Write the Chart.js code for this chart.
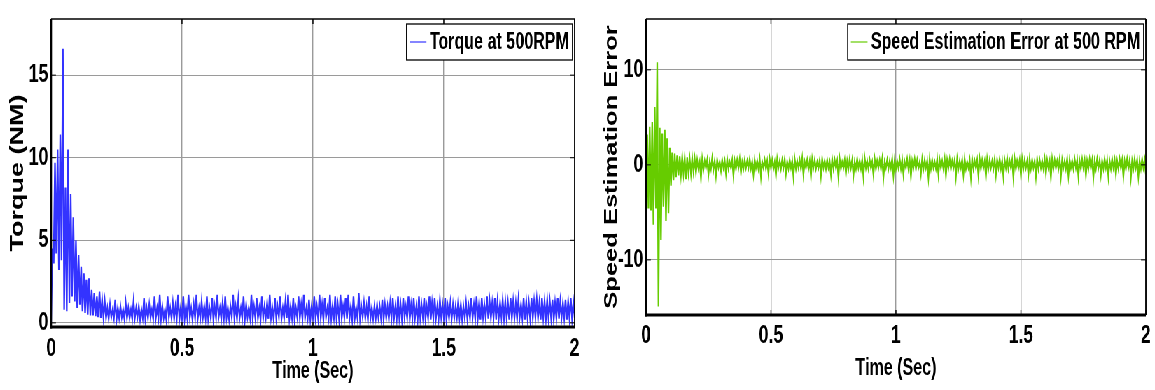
<!DOCTYPE html>
<html>
<head>
<meta charset="utf-8">
<script src="https://cdn.jsdelivr.net/npm/chart.js@4.4.1/dist/chart.umd.min.js"></script>
<style>
html, body { margin: 0; padding: 0; background: #fff; overflow: hidden; }
/* the original figure is squeezed sideways, so draw wide and compress */
#stage { position: relative; width: 1650px; height: 390px; transform: scaleX(0.7); transform-origin: 0 0; }
.panel { position: absolute; top: 0; height: 390px; }
#left { left: 0; width: 835px; }
#right { left: 840px; width: 810px; }
</style>
</head>
<body>
<div id="stage">
    <div class="panel" id="left"><canvas id="torqueChart"></canvas></div>
    <div class="panel" id="right"><canvas id="errorChart"></canvas></div>
</div>
<script>
const SAMPLE_STEP = 0.005; // seconds between samples

// torque (NM), one value per sample
const torque = [
    0.0, 4.5, 3.6, 9.7, 4.2, 10.5, 3.2, 11.4, 3.8, 16.6,
    0.8, 8.2, 0.7, 10.5, 1.2, 7.8, 1.6, 6.4, 1.3, 5.0,
    0.9, 4.1, 1.1, 3.4, 0.7, 3.0, 0.6, 2.6, 0.5, 2.7,
    0.45, 2.0, 0.45, 1.8, 0.4, 1.6, 0.35, 1.9, 0.3, 1.4,
    0.35,
    1.3, 0.3, 0.9, 0.25, 1.1, 0.35, 0.8, 0.3, 1.4, 0.2, 0.9, 0.3, 1.0, 0.35, 0.8, 0.25, 1.2, 0.3, 0.9, 0.3,
    0.8, 0.25, 1.3, 0.3, 0.9, 0.35, 1.0, 0.2, 0.8, 0.3, 1.5, 0.25, 0.9, 0.3, 1.1, 0.35, 0.8, 0.25, 1.6, 0.3,
    0.9, 0.3, 1.7, 0.25, 1.0, 0.3, 0.8, 0.2, 1.6, 0.35, 0.9, 0.3, 1.2, 0.25, 1.0, 0.3, 1.7, 0.2, 0.9, 0.3,
    1.6, 0.25, 1.0, 0.3, 1.7, 0.35, 0.9, 0.2, 1.1, 0.3, 1.7, 0.25, 0.9, 0.3, 1.3, 0.35, 1.0, 0.3, 1.6, 0.25,
    0.9, 0.3, 1.5, 0.2, 1.0, 0.3, 1.7, 0.35, 0.9, 0.25, 1.2, 0.3, 1.6, 0.3, 0.9, 0.2, 1.0, 0.35, 1.7, 0.3,
    1.0, 0.25, 1.4, 0.3, 0.9, 0.3, 1.6, 0.2, 1.1, 0.35, 0.9, 0.3, 1.7, 0.25, 1.0, 0.3, 1.5, 0.3, 0.9, 0.2,
    1.6, 0.3, 1.0, 0.35, 1.2, 0.25, 1.7, 0.3, 0.9, 0.2, 1.5, 0.3, 1.0, 0.35, 1.6, 0.25, 0.9, 0.3, 1.3, 0.3,
    1.7, 0.25, 1.0, 0.3, 1.5, 0.2, 0.9, 0.35, 1.6, 0.3, 1.1, 0.25, 1.7, 0.3, 0.9, 0.3, 1.4, 0.2, 1.0, 0.35,
    1.6, 0.3, 1.0, 0.25, 1.7, 0.3, 1.1, 0.2, 1.5, 0.35, 0.9, 0.3, 1.7, 0.25, 1.0, 0.3, 1.6, 0.3, 1.1, 0.2,
    1.7, 0.3, 1.0, 0.35, 1.5, 0.25, 1.7, 0.3, 1.0, 0.2, 1.6, 0.3, 0.9, 0.3, 1.8, 0.25, 1.0, 0.35, 1.2, 0.3,
    1.0, 0.2, 1.6, 0.3, 0.9, 0.25, 1.0, 0.3, 1.1, 0.35, 1.0, 0.3, 1.4, 0.2, 1.1, 0.3, 1.0, 0.25, 1.2, 0.3,
    1.5, 0.3, 1.0, 0.25, 1.6, 0.3, 1.1, 0.2, 1.5, 0.35, 1.0, 0.3, 1.6, 0.25, 1.1, 0.3, 1.5, 0.3, 1.0, 0.2,
    1.6, 0.3, 1.1, 0.35, 1.5, 0.25, 1.0, 0.3, 1.6, 0.2, 1.2, 0.3, 1.5, 0.3, 1.0, 0.25, 1.4, 0.35, 1.1, 0.3,
    1.5, 0.2, 1.0, 0.3, 1.2, 0.25, 1.1, 0.3, 1.0, 0.35, 1.3, 0.3, 1.1, 0.2, 1.0, 0.3, 1.2, 0.25, 1.0, 0.3,
    1.5, 0.3, 1.1, 0.25, 1.6, 0.3, 1.2, 0.2, 1.5, 0.35, 1.1, 0.3, 1.6, 0.25, 1.3, 0.3, 1.2, 0.3, 1.5, 0.2,
    1.3, 0.3, 1.2, 0.35, 1.4, 0.25, 1.3, 0.3, 1.2, 0.2, 1.5, 0.3, 1.3, 0.3, 1.2, 0.25, 1.4, 0.35, 1.1, 0.3,
    1.5, 0.2, 1.3, 0.3, 1.2, 0.25, 1.5, 0.3, 1.3, 0.35, 1.4, 0.3, 1.2, 0.2, 1.5, 0.3, 1.3, 0.25, 1.4, 0.3,
    1.3, 0.3, 1.4, 0.2, 1.2, 0.3, 1.5, 0.25, 1.3, 0.35, 1.2, 0.3, 1.4, 0.2, 1.3, 0.3, 1.5, 0.25, 1.2, 0.3
];

// speed estimation error, one value per sample
const speedError = [
    0, 3.2, -4.6, 4.0, -4.8, 4.5, -6.3, 6.1, -4.6, 10.8,
    -14.9, 3.9, -7.9, 3.3, -4.4, 3.7, -5.9, 2.8, -5.1, 1.8,
    -2.2, 1.3, -1.6, 1.2, -1.3, 1.0, -1.1, 0.9, -1.0, 0.8,
    -0.9, 0.7, -1.5, 0.8, -0.8, 0.6, -0.9, 0.7, -0.7, 0.6,
    -0.8,
    0.5, -0.4, 0.3, -1.4, 0.6, -0.5, 0.4, -0.3, 0.5, -1.0, 0.3, -0.4, 0.7, -0.5, 0.4, -1.1, 0.5, -0.3, 0.3, -0.6,
    0.5, -0.3, 0.4, -0.9, 0.6, -0.4, 0.3, -0.3, 0.5, -1.1, 0.4, -0.4, 0.5, -0.3, 0.6, -0.8, 0.3, -0.4, 0.5, -0.3,
    0.4, -0.3, 0.6, -0.4, 0.3, -1.0, 0.5, -0.3, 0.4, -0.4, 0.6, -1.2, 0.3, -0.3, 0.5, -0.4, 0.4, -0.9, 0.6, -0.3,
    0.5, -0.4, 0.3, -1.1, 0.6, -0.3, 0.4, -0.4, 0.5, -0.3, 0.6, -0.9, 0.3, -0.4, 0.5, -0.3, 0.4, -1.2, 0.6, -0.4,
    0.4, -0.3, 0.5, -0.4, 0.7, -1.0, 0.3, -0.3, 0.5, -0.4, 0.4, -1.2, 0.6, -0.3, 0.5, -0.4, 0.3, -0.3, 0.5, -1.1,
    0.6, -0.3, 0.4, -0.4, 0.5, -0.3, 0.3, -1.0, 0.6, -0.4, 0.5, -0.3, 0.4, -1.3, 0.6, -0.4, 0.3, -0.3, 0.5, -0.9,
    0.4, -0.4, 0.6, -0.3, 0.5, -1.1, 0.3, -0.4, 0.6, -0.3, 0.4, -0.4, 0.5, -1.2, 0.7, -0.3, 0.4, -0.4, 0.5, -0.3,
    0.3, -1.0, 0.6, -0.4, 0.4, -0.3, 0.5, -0.4, 0.6, -1.3, 0.3, -0.3, 0.5, -0.4, 0.4, -0.3, 0.6, -1.1, 0.5, -0.4,
    0.4, -0.3, 0.6, -0.4, 0.5, -1.0, 0.3, -0.3, 0.6, -0.4, 0.5, -1.2, 0.4, -0.3, 0.6, -0.4, 0.5, -0.3, 0.3, -0.9,
    0.6, -0.4, 0.5, -0.3, 0.4, -1.3, 0.6, -0.4, 0.5, -0.3, 0.3, -0.4, 0.6, -1.0, 0.5, -0.3, 0.4, -0.4, 0.6, -1.1,
    0.5, -0.3, 0.6, -0.4, 0.4, -0.3, 0.5, -1.2, 0.6, -0.4, 0.4, -0.3, 0.5, -1.0, 0.6, -0.4, 0.3, -0.3, 0.5, -1.3,
    0.6, -0.4, 0.4, -0.3, 0.5, -1.1, 0.6, -0.4, 0.5, -0.3, 0.4, -1.2, 0.6, -0.4, 0.5, -0.3, 0.4, -0.4, 0.6, -1.0,
    0.5, -0.3, 0.6, -0.4, 0.4, -1.2, 0.5, -0.3, 0.7, -0.4, 0.4, -0.3, 0.5, -1.3, 0.6, -0.4, 0.4, -0.3, 0.5, -1.1,
    0.6, -0.4, 0.5, -0.3, 0.4, -1.0, 0.6, -0.4, 0.5, -0.3, 0.4, -1.2, 0.6, -0.4, 0.5, -0.3, 0.4, -0.4, 0.6, -0.9,
    0.5, -0.3, 0.4, -1.3, 0.6, -0.4, 0.5, -0.3, 0.4, -0.4, 0.6, -1.2, 0.5, -0.3, 0.4, -0.4, 0.6, -1.1, 0.5, -0.3,
    0.4, -0.4, 0.6, -0.3, 0.5, -1.2, 0.4, -0.4, 0.6, -0.3, 0.5, -1.1, 0.4, -0.4, 0.6, -0.3, 0.5, -1.3, 0.4, -0.4,
    0.6, -0.3, 0.5, -1.0, 0.4, -0.4, 0.6, -0.3, 0.5, -1.2, 0.4, -0.4, 0.6, -0.3, 0.5, -1.0, 0.4, -0.4, 0.6, -0.3,
    0.5, -1.2, 0.4, -0.4, 0.6, -0.3, 0.5, -1.3, 0.4, -0.4, 0.6, -0.3, 0.5, -1.2, 0.4, -0.4, 0.6, -0.3, 0.5, -1.0
];

const xTicks = [0, 0.5, 1, 1.5, 2];
const xTickLabels = ['0', '0.5', '1', '1.5', '2'];
const torqueTicks = [0, 5, 10, 15];
const errorTicks = [-10, 0, 10];

const FONT = '"Liberation Sans", Arial, sans-serif';

function points(values) {
    return values.map((v, i) => ({ x: i * SAMPLE_STEP, y: v }));
}

// matlab style box: axes, inner tick marks and a boxed legend
const matlabBox = {
    id: 'matlabBox',
    afterDatasetsDraw(chart) {
        const { ctx, chartArea: a, scales: { x, y } } = chart;
        ctx.save();
        ctx.strokeStyle = '#000';
        ctx.lineWidth = 1.4;
        ctx.beginPath();
        x.ticks.forEach(t => {
            const px = x.getPixelForValue(t.value);
            ctx.moveTo(px, a.bottom); ctx.lineTo(px, a.bottom - 5);
            ctx.moveTo(px, a.top); ctx.lineTo(px, a.top + 5);
        });
        ctx.stroke();
        ctx.lineWidth = 1;
        ctx.beginPath();
        y.ticks.forEach(t => {
            const py = y.getPixelForValue(t.value);
            ctx.moveTo(a.left, py); ctx.lineTo(a.left + 7, py);
            ctx.moveTo(a.right, py); ctx.lineTo(a.right - 7, py);
        });
        ctx.stroke();

        ctx.lineWidth = 1.5;
        ctx.beginPath(); ctx.moveTo(a.left, a.top); ctx.lineTo(a.right, a.top); ctx.stroke();
        ctx.lineWidth = 1.8;
        ctx.beginPath(); ctx.moveTo(a.right, a.top); ctx.lineTo(a.right, a.bottom); ctx.stroke();
        ctx.lineWidth = 2.8;
        ctx.beginPath(); ctx.moveTo(a.left, a.top); ctx.lineTo(a.left, a.bottom + 1.5); ctx.stroke();
        ctx.lineWidth = 3;
        ctx.beginPath(); ctx.moveTo(a.left - 1.4, a.bottom); ctx.lineTo(a.right, a.bottom); ctx.stroke();
        ctx.restore();
    },
    afterDraw(chart) {
        const { ctx, chartArea: a } = chart;
        const ds = chart.data.datasets[0];
        ctx.save();
        ctx.font = 'bold 23px ' + FONT;
        const textW = ctx.measureText(ds.label).width;
        const w = 4.7 + 23.8 + 4.7 + textW + 4.9;
        const h = 36;
        const right = a.right - 3.3;
        const left = right - w;
        const top = a.top + 5;
        const mid = top + h / 2;
        ctx.fillStyle = '#fff';
        ctx.fillRect(left, top, w, h);
        ctx.strokeStyle = '#000';
        ctx.lineWidth = 1.3;
        ctx.strokeRect(left, top, w, h);
        ctx.strokeStyle = ds.borderColor;
        ctx.lineWidth = 1.2;
        ctx.beginPath();
        ctx.moveTo(left + 4.7, mid); ctx.lineTo(left + 28.5, mid);
        ctx.stroke();
        ctx.fillStyle = '#000';
        ctx.textBaseline = 'middle';
        ctx.textAlign = 'left';
        ctx.fillText(ds.label, left + 33.2, mid + 1);
        ctx.restore();
    }
};

function makeChart(canvasId, cfg) {
    const ctx = document.getElementById(canvasId).getContext('2d');
    return new Chart(ctx, {
        type: 'line',
        data: {
            datasets: [{
                label: cfg.label,
                data: points(cfg.values),
                borderColor: cfg.color,
                borderWidth: 2.3,
                pointRadius: 0,
                tension: 0,
                fill: false
            }]
        },
        options: {
            responsive: true,
            maintainAspectRatio: false,
            animation: false,
            events: [],
            layout: { padding: { left: 0, top: cfg.top, right: cfg.padRight, bottom: 0 } },
            plugins: { legend: { display: false }, tooltip: { enabled: false } },
            scales: {
                x: {
                    type: 'linear',
                    min: 0,
                    max: 2,
                    afterBuildTicks: s => { s.ticks = xTicks.map(v => ({ value: v })); },
                    afterFit: s => { s.height = cfg.xHeight; },
                    border: { display: false },
                    grid: { color: '#9a9a9a', lineWidth: 1.4, drawTicks: false },
                    ticks: {
                        autoSkip: false,
                        maxRotation: 0,
                        padding: cfg.xTickPad,
                        color: '#000',
                        font: { family: FONT, size: 25, weight: 'bold' },
                        callback: v => xTickLabels[xTicks.indexOf(v)]
                    },
                    title: {
                        display: true,
                        text: 'Time (Sec)',
                        color: '#000',
                        font: { family: FONT, size: 23, weight: 'bold' },
                        padding: { top: 0, bottom: cfg.xTitlePad }
                    }
                },
                y: {
                    type: 'linear',
                    min: cfg.yMin,
                    max: cfg.yMax,
                    afterBuildTicks: s => { s.ticks = cfg.yTicks.map(v => ({ value: v })); },
                    afterFit: s => { s.width = cfg.yWidth; },
                    border: { display: false },
                    grid: { color: '#9a9a9a', lineWidth: 1, drawTicks: false },
                    ticks: {
                        padding: 4,
                        color: '#000',
                        font: { family: FONT, size: 25, weight: 'bold' },
                        callback: v => String(v)
                    },
                    title: {
                        display: true,
                        text: cfg.yTitle,
                        color: '#000',
                        font: { family: FONT, size: cfg.yTitleSize, weight: 'bold' },
                        padding: { top: cfg.yTitlePad, bottom: 0 }
                    }
                }
            }
        },
        plugins: [matlabBox]
    });
}

makeChart('torqueChart', {
    label: 'Torque at 500RPM',
    values: torque,
    color: '#3333ff',
    yTitle: 'Torque (NM)', yTitleSize: 27,
    yMin: -0.25, yMax: 18.4, yTicks: torqueTicks,
    top: 9.5, padRight: 13.6,
    yWidth: 72.9, xHeight: 63,
    xTickPad: 7, xTitlePad: 5, yTitlePad: 9
});

makeChart('errorChart', {
    label: 'Speed Estimation Error at 500 RPM',
    values: speedError,
    color: '#66cc00',
    yTitle: 'Speed Estimation Error', yTitleSize: 25.5,
    yMin: -15.8, yMax: 15.35, yTicks: errorTicks,
    top: 9.3, padRight: 2.9,
    yWidth: 82.9, xHeight: 75,
    xTickPad: 6, xTitlePad: 8, yTitlePad: 18.5
});
</script>
</body>
</html>
